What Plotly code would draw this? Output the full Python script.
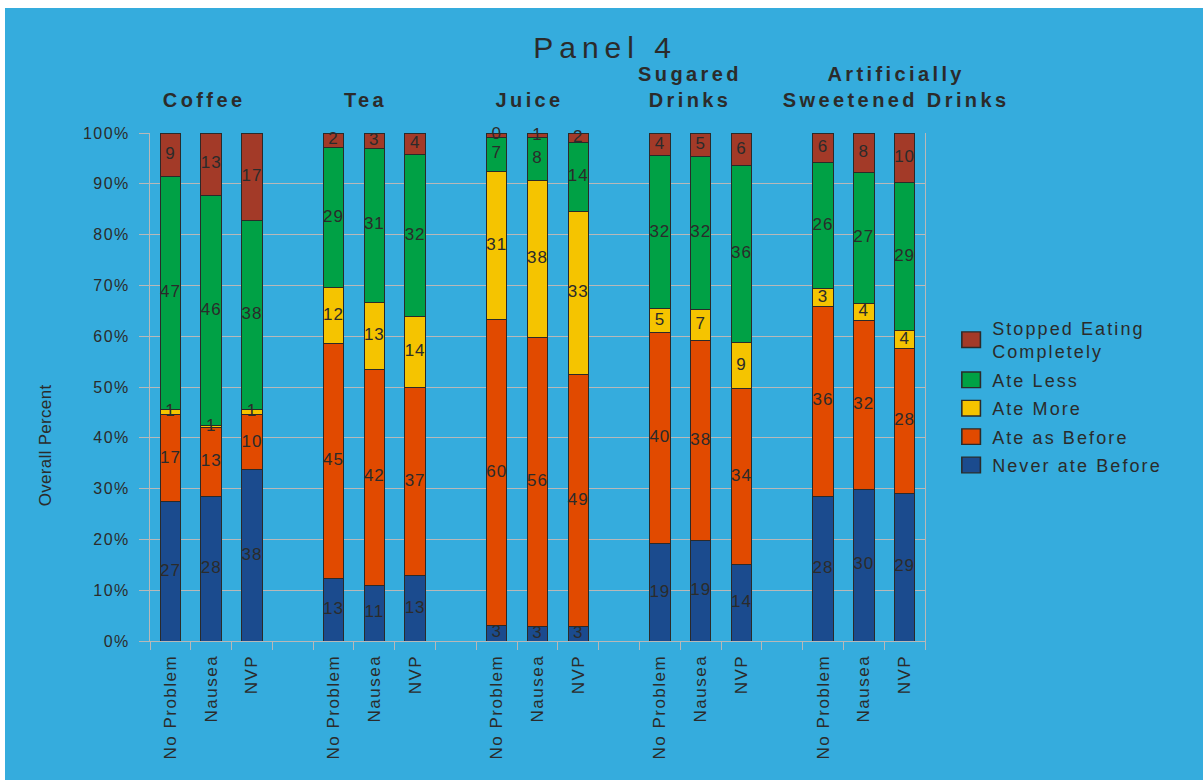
import plotly.graph_objects as go

groups = ["Coffee", "Tea", "Juice", "Sugared Drinks", "Artificially Sweetened Drinks"]
group_titles = ["Coffee", "Tea", "Juice", "Sugared<br>Drinks", "Artificially<br>Sweetened Drinks"]
conditions = ["No Problem", "Nausea", "NVP"]

# segment heights (percent of bar) as drawn
never_ate_before = [27.4, 28.5, 33.7, 12.4, 11.0, 12.8, 3.1, 2.8, 2.8, 19.1, 19.7, 15.0, 28.5, 29.9, 29.1]
ate_as_before = [17.1, 13.6, 10.8, 46.1, 42.5, 37.2, 60.2, 57.0, 49.7, 41.7, 39.4, 34.7, 37.4, 33.1, 28.5]
ate_more = [1.1, 0.3, 1.1, 11.0, 13.2, 13.8, 29.2, 30.9, 32.0, 4.6, 6.2, 9.1, 3.4, 3.5, 3.6]
ate_less = [45.9, 45.3, 37.1, 27.7, 30.3, 31.9, 6.7, 8.4, 13.6, 30.1, 30.0, 34.8, 24.8, 25.8, 29.0]
stopped = [8.5, 12.3, 17.3, 2.8, 3.0, 4.3, 0.8, 0.9, 1.9, 4.5, 4.7, 6.4, 5.9, 7.7, 9.8]

# printed data labels
never_ate_before_lbl = [27, 28, 38, 13, 11, 13, 3, 3, 3, 19, 19, 14, 28, 30, 29]
ate_as_before_lbl = [17, 13, 10, 45, 42, 37, 60, 56, 49, 40, 38, 34, 36, 32, 28]
ate_more_lbl = [1, 1, 1, 12, 13, 14, 31, 38, 33, 5, 7, 9, 3, 4, 4]
ate_less_lbl = [47, 46, 38, 29, 31, 32, 7, 8, 14, 32, 32, 36, 26, 27, 29]
stopped_lbl = [9, 13, 17, 2, 3, 4, 0, 1, 2, 4, 5, 6, 6, 8, 10]

series = [
    ("Never ate Before", never_ate_before, never_ate_before_lbl, "#1B4B8E"),
    ("Ate as Before", ate_as_before, ate_as_before_lbl, "#E14A00"),
    ("Ate More", ate_more, ate_more_lbl, "#F5C400"),
    ("Ate Less", ate_less, ate_less_lbl, "#00A145"),
    ("Stopped Eating<br>Completely", stopped, stopped_lbl, "#A33A28"),
]

BG = "#35ACDD"
TXT = "#2B2B2B"
FONT = "Liberation Sans, Arial, sans-serif"

# category axis with empty gap slots between groups
cats, ticktext, idx_map = [], [], []
for gi, g in enumerate(groups):
    for ci, c in enumerate(conditions):
        cats.append(f"{g}|{c}")
        ticktext.append(c)
        idx_map.append(gi * 3 + ci)
    if gi < len(groups) - 1:
        cats.append(" " * (gi + 1))
        ticktext.append("")
        idx_map.append(None)

fig = go.Figure()
cum = [0.0] * 15
n = len(series)
for si, (name, vals, lbls, color) in enumerate(series):
    yv = [None if k is None else vals[k] for k in idx_map]
    fig.add_trace(go.Bar(
        x=cats, y=yv, name=name, legendgroup=name, legendrank=n - si,
        marker=dict(color=color, line=dict(color="#2A2A2A", width=1)),
    ))
    mids = []
    for k in idx_map:
        if k is None:
            mids.append(None)
        else:
            mids.append(cum[k] + vals[k] / 2)
            cum[k] += vals[k]
    fig.add_trace(go.Scatter(
        x=cats, y=mids, mode="text",
        text=[None if k is None else str(lbls[k]) for k in idx_map],
        textfont=dict(family=FONT, size=17, color=TXT),
        showlegend=False, hoverinfo="skip", cliponaxis=False,
    ))

fig.update_layout(
    width=1203, height=780,
    barmode="stack", bargap=0.5,
    paper_bgcolor=BG, plot_bgcolor=BG,
    margin=dict(l=150, r=278, t=133, b=139),
    font=dict(family=FONT, color=TXT),
    title=dict(text="Panel 4", x=0.503, xref="container", y=1 - 47 / 780,
               yref="container", xanchor="center", yanchor="middle",
               font=dict(size=30, color=TXT, family=FONT)),
    legend=dict(x=1.035, y=0.652, xanchor="left", yanchor="top",
                traceorder="grouped", tracegroupgap=2,
                font=dict(size=18, color=TXT, family=FONT),
                bgcolor="rgba(0,0,0,0)"),
    showlegend=True,
)

fig.update_xaxes(
    type="category", categoryorder="array", categoryarray=cats,
    tickmode="array", tickvals=cats, ticktext=ticktext,
    tickson="boundaries", ticks="outside", ticklen=8, tickcolor="#B8B8B8",
    ticklabelstandoff=6,
    tickangle=-90, tickfont=dict(size=17, color=TXT, family=FONT),
    showgrid=False, showline=True, linecolor="#B8B8B8", linewidth=1,
    range=[-0.5, len(cats) - 0.5],
)
fig.update_yaxes(
    range=[0, 100], dtick=10, ticksuffix="%",
    ticks="outside", ticklen=10, tickcolor="#B8B8B8",
    ticklabelstandoff=6,
    tickfont=dict(size=16, color=TXT, family=FONT),
    showgrid=True, gridcolor="#B8B8B8", gridwidth=1,
    showline=True, linecolor="#B8B8B8", linewidth=1, mirror=True,
    zeroline=False,
)

shifts = [-7, -8, -8, -11, 32]
for gi, gt in enumerate(group_titles):
    fig.add_annotation(
        text=f"<b>{gt}</b>", x=f"{groups[gi]}|Nausea", xref="x",
        y=1 + (133 - 113) / 508, yref="paper", yanchor="bottom",
        xshift=shifts[gi], showarrow=False,
        font=dict(size=20, color=TXT, family=FONT),
    )

fig.add_annotation(
    text="Overall Percent", textangle=-90, x=(45 - 150) / 775, xref="paper",
    y=(641 - 445) / 508, yref="paper", xanchor="center", yanchor="middle",
    showarrow=False, name="ytitle",
    font=dict(size=17, color=TXT, family=FONT),
)

# white strips at top and left edges of the page
fig.add_shape(type="rect", xref="paper", yref="paper",
              x0=-0.3, x1=1.5, y0=1 + 125 / 508, y1=1.4,
              fillcolor="white", line=dict(width=0))
fig.add_shape(type="rect", xref="paper", yref="paper",
              x0=-0.3, x1=(5 - 150) / 775, y0=-0.5, y1=1.4,
              fillcolor="white", line=dict(width=0))

post = """
var s = document.createElement('style');
s.textContent = '.gtitle{letter-spacing:6px}' +
 '.annotation-text{letter-spacing:3.4px}' +
 '.legendtext{letter-spacing:2.1px}' +
 '.legend .scrollbox{clip-path:none !important}' +
 '.legend .legendpoints path{transform:translate(19px,0px) scale(1.55,1.3)}' +
 '.xtick text,.ytick text{letter-spacing:1.5px}' +
 '.textpoint text{letter-spacing:1px}';
document.head.appendChild(s);
var anns = document.querySelectorAll('.annotation-text');
anns.forEach(function(a){ if (a.textContent === 'Overall Percent') { a.style.letterSpacing = '0.3px'; } });
"""
fig.write_html("out.html", post_script=post)
